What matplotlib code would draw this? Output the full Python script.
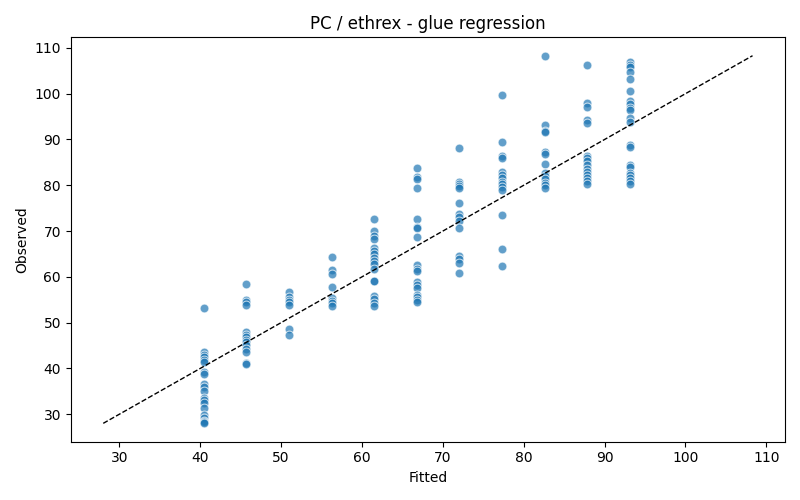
import matplotlib
matplotlib.use("Agg")
import matplotlib.pyplot as plt
import numpy as np

fitted_levels = [40.43, 45.70, 50.97, 56.24, 61.51, 66.78, 72.05, 77.32, 82.59, 87.86, 93.13]

obs_40 = [53.2, 43.6, 43.0, 42.5, 41.9, 41.3, 39.3, 38.7, 36.5, 35.9, 35.0, 33.6, 33.0, 32.4, 31.4, 29.8, 29.2, 28.6, 28.2, 28.0]
obs_45 = [58.5, 54.9, 54.4, 53.8, 48.0, 47.4, 46.8, 46.2, 45.7, 45.1, 44.3, 43.6, 41.1, 41.0]
obs_51 = [56.6, 55.5, 54.9, 54.4, 53.8, 48.5, 47.4]
obs_56 = [64.4, 61.6, 60.7, 57.8, 55.4, 54.8, 54.2, 53.7]
obs_61 = [72.7, 70.0, 68.9, 68.3, 66.2, 65.6, 64.9, 64.1, 63.4, 62.8, 61.7, 59.2, 59.0, 55.9, 55.1, 54.2, 53.7]
obs_66 = [83.8, 81.8, 81.3, 79.4, 72.7, 70.9, 70.6, 68.7, 62.5, 61.8, 61.2, 58.9, 58.3, 57.6, 56.1, 55.6, 55.0, 54.4]
obs_72 = [88.1, 80.8, 80.3, 79.8, 79.3, 76.2, 73.8, 73.0, 72.2, 70.7, 64.5, 64.0, 63.0, 60.9]
obs_77 = [99.7, 89.5, 86.4, 85.9, 82.8, 82.2, 81.5, 80.8, 80.2, 79.6, 79.0, 73.6, 66.0, 62.3]
obs_82 = [108.3, 93.2, 91.8, 91.6, 87.2, 86.9, 84.7, 82.6, 82.0, 81.4, 80.6, 80.0, 79.4]
obs_87 = [106.2, 98.0, 97.0, 94.3, 93.5, 86.5, 85.9, 85.2, 84.5, 83.6, 82.9, 82.2, 81.5, 80.9, 80.3]
obs_93 = [106.9, 106.2, 105.8, 104.8, 103.3, 100.6, 98.5, 97.8, 96.9, 96.4, 94.6, 93.8,
          88.7, 88.3, 84.5, 84.1, 82.7, 82.2, 81.6, 80.9, 80.2]

groups = [obs_40, obs_45, obs_51, obs_56, obs_61, obs_66, obs_72, obs_77, obs_82, obs_87, obs_93]

fitted = []
observed = []
for lvl, obs in zip(fitted_levels, groups):
    fitted.extend([lvl] * len(obs))
    observed.extend(obs)
fitted = np.array(fitted)
observed = np.array(observed)

fig, ax = plt.subplots(figsize=(8, 5), dpi=100)
ax.scatter(fitted, observed, s=40, color="#1f77b4", alpha=0.7, edgecolors="white", linewidths=0.75)
lo = min(fitted.min(), observed.min())
hi = max(fitted.max(), observed.max())
ax.plot([lo, hi], [lo, hi], color="black", linestyle="--", linewidth=1)
ax.set_xlabel("Fitted")
ax.set_ylabel("Observed")
ax.set_title("PC / ethrex - glue regression")
fig.tight_layout()
fig.savefig("out.png")
